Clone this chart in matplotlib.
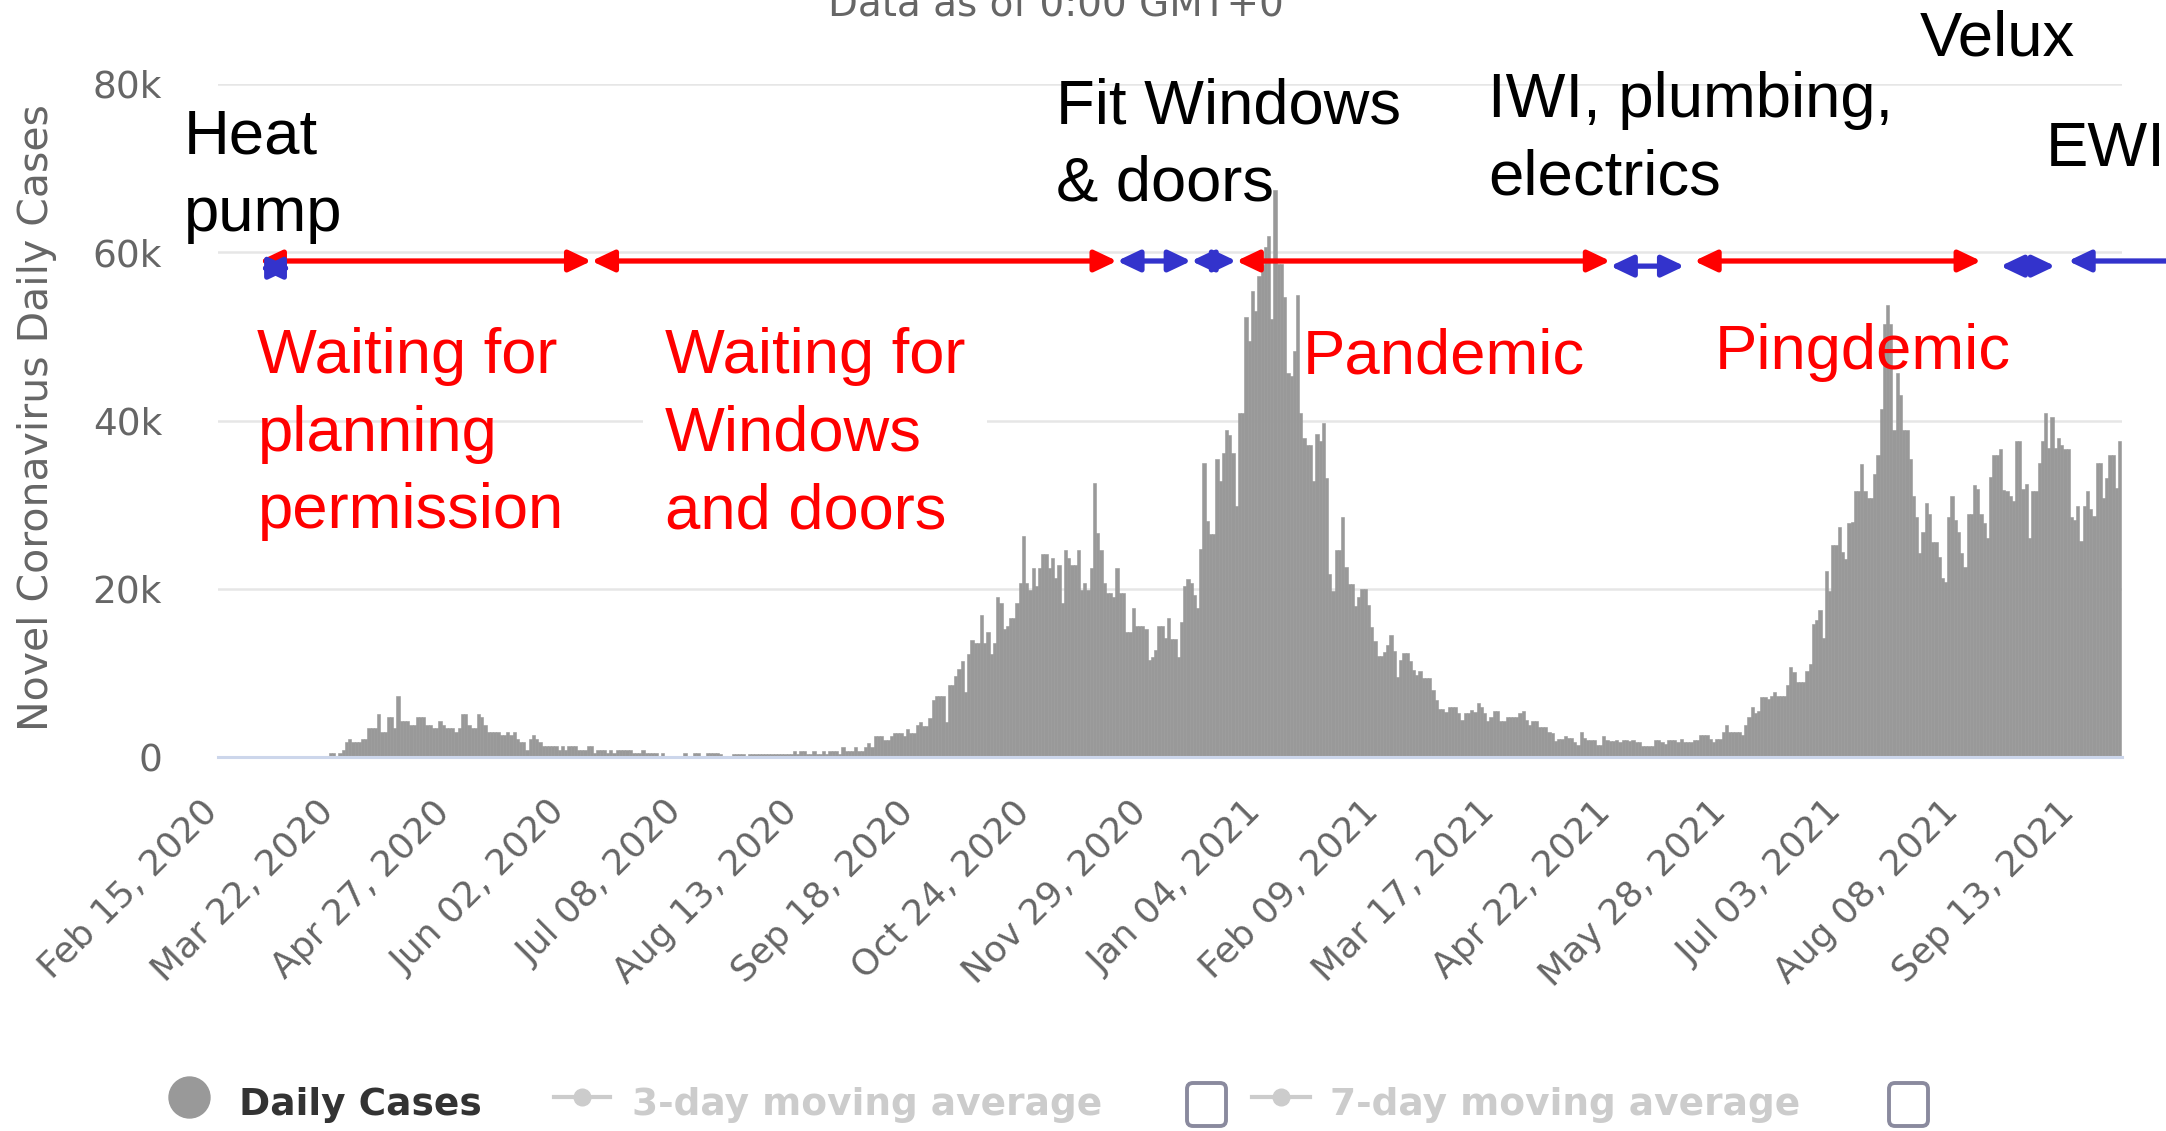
import numpy as np
import pandas as pd
import matplotlib
matplotlib.use("Agg")
import matplotlib.pyplot as plt
from matplotlib.lines import Line2D
from matplotlib.patches import FancyBboxPatch

start = pd.Timestamp("2020-02-15")

# UK daily cases, one bar per day from 15 Feb 2020
daily_cases = [
    0, 0, 0, 0, 0, 0, 0, 0, 0, 0,
    0, 0, 0, 0, 0, 0, 0, 0, 0, 0,
    0, 0, 0, 0, 0, 0, 0, 0, 0, 0,
    0, 0, 0, 0, 0, 470, 470, 100, 470, 830,
    1780, 2140, 1780, 1780, 1780, 2140, 2140, 3440, 3440, 3440,
    5100, 2970, 2970, 4750, 4750, 3440, 7250, 4280, 4280, 4280,
    3800, 3800, 4750, 4750, 4750, 3800, 3800, 3440, 3440, 4280,
    3800, 3440, 3440, 3440, 2970, 3440, 5100, 5100, 3800, 3440,
    3440, 5100, 4750, 3800, 2970, 2970, 2970, 2970, 2610, 2610,
    2970, 2610, 2970, 2140, 1780, 1780, 830, 2140, 2610, 2140,
    1780, 1300, 1300, 1300, 1300, 1300, 830, 1300, 830, 1300,
    1300, 1300, 830, 830, 830, 1300, 1300, 470, 830, 830,
    830, 470, 830, 470, 830, 830, 830, 830, 830, 470,
    470, 470, 830, 470, 470, 470, 470, 100, 470, 100,
    100, 100, 100, 100, 100, 470, 100, 100, 470, 470,
    100, 100, 470, 470, 470, 470, 400, 100, 100, 100,
    400, 400, 400, 400, 100, 400, 400, 400, 400, 400,
    400, 400, 400, 400, 400, 400, 400, 400, 400, 750,
    400, 750, 750, 400, 400, 750, 400, 400, 750, 400,
    750, 750, 750, 400, 1230, 750, 750, 750, 1230, 750,
    750, 1230, 1700, 1230, 2530, 2530, 2530, 2060, 2060, 2530,
    2890, 2890, 2890, 2530, 3360, 2890, 2890, 3840, 4190, 3720,
    3720, 4670, 6720, 7200, 7200, 7200, 4190, 8500, 8500, 9650,
    10520, 11470, 7670, 12300, 13960, 13570, 13570, 16930, 13600, 14800,
    12300, 13600, 19070, 18280, 15230, 15590, 16580, 16580, 18280, 20730,
    26310, 20730, 19900, 22510, 20380, 22510, 24170, 24170, 22510, 23700,
    21240, 22870, 18280, 24610, 23700, 22870, 22870, 24610, 19900, 20730,
    19900, 22510, 32600, 26660, 24610, 20730, 19540, 19540, 19070, 22510,
    19540, 19540, 14800, 14800, 17760, 15590, 15590, 15590, 15230, 11510,
    11830, 12700, 15590, 15590, 14120, 16580, 14040, 14040, 11830, 16100,
    20380, 21200, 20690, 19270, 17760, 24760, 34900, 28070, 26510, 26510,
    35380, 32830, 36180, 38820, 38300, 36180, 29810, 40940, 40940, 52360,
    49480, 55420, 52970, 57170, 58490, 60660, 61890, 52030, 67360, 58580,
    58580, 54670, 45660, 45240, 48210, 54950, 40900, 37970, 37120, 37120,
    32830, 38390, 37590, 39720, 33210, 21790, 19720, 24620, 24620, 28490,
    22640, 20520, 20520, 17920, 18960, 20000, 20000, 18020, 15420, 13770,
    12030, 12030, 12500, 13300, 14530, 12590, 9530, 11510, 12360, 12360,
    11420, 10380, 9720, 10240, 9430, 9430, 9430, 8020, 6790, 5660,
    5660, 5380, 5900, 5900, 5900, 5280, 4340, 5280, 5280, 5610,
    5380, 6370, 5990, 5280, 4250, 4810, 5520, 5520, 4250, 4250,
    4810, 4810, 4810, 4810, 5280, 5520, 4340, 3770, 4250, 4250,
    3540, 3540, 3540, 2920, 2830, 1890, 2120, 2120, 2550, 2260,
    2260, 1750, 1420, 2920, 2220, 2080, 2080, 1980, 1420, 1420,
    2550, 2080, 1890, 1890, 2080, 1750, 2080, 2080, 1890, 2080,
    1750, 1750, 1270, 1270, 1270, 1270, 2080, 2080, 1750, 1510,
    1980, 2080, 2080, 1750, 2120, 1750, 1750, 1750, 2080, 2080,
    2590, 2590, 2590, 2120, 1840, 2120, 2120, 2920, 3770, 2920,
    2920, 2920, 2920, 2590, 3770, 4720, 5900, 5280, 5520, 7170,
    7170, 6930, 7260, 7740, 7260, 7260, 7260, 8590, 10710, 10090,
    8960, 8960, 8960, 10240, 11080, 15800, 16230, 17450, 14100, 22120,
    19760, 25240, 25240, 27310, 24380, 23540, 27830, 27920, 31600, 31600,
    34860, 31600, 30750, 30750, 33680, 35850, 41370, 51510, 53680, 51510,
    38870, 45610, 43020, 38870, 38870, 35380, 31040, 28490, 24290, 26750,
    30190, 28870, 25570, 25570, 23770, 21320, 20850, 28490, 30990, 28160,
    26750, 24290, 22640, 28870, 28870, 32310, 31840, 28870, 27780, 26040,
    33260, 35940, 35940, 36600, 31700, 31600, 30990, 30380, 37550, 37550,
    31890, 32410, 26040, 31600, 31600, 34900, 37550, 40900, 36790, 40420,
    36790, 37920, 37120, 36650, 36650, 28580, 28160, 29810, 25660, 29810,
    31600, 29430, 28630, 34900, 34900, 30750, 33210, 35850, 35850, 31940,
    37550,
]

tick_dates = pd.date_range(start, periods=17, freq="36D")
tick_labels = [d.strftime("%b %d, %Y") for d in tick_dates]
y_ticks = [0, 20000, 40000, 60000, 80000]
y_tick_labels = ["0", "20k", "40k", "60k", "80k"]

# project phases: (from, to)
red_spans = [("2020-02-28", "2020-06-10"), ("2020-06-10", "2020-11-20"),
             ("2020-12-27", "2021-04-22"), ("2021-05-18", "2021-08-15")]
blue_spans = [("2020-02-28", "2020-03-09"), ("2020-11-20", "2020-12-13"),
              ("2020-12-13", "2020-12-27"), ("2021-04-22", "2021-05-15"),
              ("2021-08-21", "2021-09-07"), ("2021-09-11", "2021-10-20")]
blue_levels = [58100, 58960, 58960, 58350, 58350, 58960]
blue_styles = ["<|-|>"] * 5 + ["<|-"]

black_notes = ["Heat\npump", "Fit Windows\n& doors", "IWI, plumbing,\nelectrics", "Velux", "EWI"]
red_notes = ["Waiting for\nplanning\npermission", "Waiting for\nWindows\nand doors", "Pandemic", "Pingdemic"]


def day(s):
    return (pd.Timestamp(s) - start).days


W, H = 2166, 1131
fig = plt.figure(figsize=(W / 100, H / 100), dpi=100)
ax = fig.add_axes([217.5 / W, 1 - 757 / H, 1904.5 / W, 673 / H])

days = np.arange(len(daily_cases))
ax.bar(days, daily_cases, width=1.0, color="#999999", edgecolor="#999999", linewidth=0.4)

ax.set_xlim(0, 590.7)
ax.set_ylim(0, 80000)
for side in ["left", "right", "top"]:
    ax.spines[side].set_visible(False)
ax.spines["bottom"].set_color("#ccd6eb")
ax.spines["bottom"].set_linewidth(2.2)
ax.yaxis.grid(True, color="#e6e6e6", linewidth=1.8)
ax.set_axisbelow(True)

ax.set_yticks(y_ticks, y_tick_labels)
ax.set_xticks([day(d) + 2 for d in tick_dates], tick_labels, rotation=45, ha="right", va="top")
ax.tick_params(axis="y", length=0, pad=40, labelsize=27, labelcolor="#666666")
ax.tick_params(axis="x", length=0, pad=27, labelsize=26, labelcolor="#666666")
ax.set_ylabel("Novel Coronavirus Daily Cases", fontsize=29.5, color="#666666", va="center")
ax.yaxis.set_label_coords(-0.0948, 0.504)

# phase arrows
arrow_head = ",head_length=1.35,head_width=0.64"
for a, b in red_spans:
    ax.annotate("", xy=(day(b), 58960), xytext=(day(a), 58960), annotation_clip=False,
                arrowprops=dict(arrowstyle="<|-|>" + arrow_head, color="#ff0000", lw=3.8,
                                shrinkA=0, shrinkB=0, mutation_scale=10))
for (a, b), lev, st in zip(blue_spans, blue_levels, blue_styles):
    ax.annotate("", xy=(day(b), lev), xytext=(day(a), lev), annotation_clip=False,
                arrowprops=dict(arrowstyle=st + arrow_head, color="#3333cc", lw=3.8,
                                shrinkA=0, shrinkB=0, mutation_scale=10))

# notes: left edge in days, top in cases
note_font = dict(family="Liberation Sans", fontsize=45.6, linespacing=1.40, ha="left", va="top")
black_pos = [(-10.5, 77150), (260.0, 80770), (394.0, 81545), (528.0, 88900), (567.0, 75720)]
red_pos = [(12.4, 51055), (138.7, 51055), (336.6, 51114), (464.4, 51649)]
for txt, (x, y) in zip(black_notes, black_pos):
    ax.text(x, y, txt, color="black", **note_font)
for i, (txt, (x, y)) in enumerate(zip(red_notes, red_pos)):
    box = dict(facecolor="white", edgecolor="none", boxstyle="square,pad=0.35") if i == 1 else None
    ax.text(x, y, txt, color="#ff0000", bbox=box, **note_font)

fig.text(1056 / W, 1 - 15 / H, "Data as of 0:00 GMT+0", ha="center", va="baseline",
         fontsize=28, color="#666666")

# legend row
leg_y = 1 - 1097 / H
fig.add_artist(Line2D([189 / W], [leg_y], marker="o", ms=29.5, color="#999999", transform=fig.transFigure))
fig.text(239 / W, 1 - 1115 / H, "Daily Cases", fontsize=27, fontweight="bold", color="#333333", va="baseline")
for x0, x1, tx, label in [(554, 610, 632, "3-day moving average"), (1252, 1310, 1330, "7-day moving average")]:
    fig.add_artist(Line2D([x0 / W, x1 / W], [leg_y, leg_y], lw=3, color="#cccccc", transform=fig.transFigure))
    fig.add_artist(Line2D([(x0 + x1) / 2 / W], [leg_y], marker="o", ms=12, color="#cccccc", transform=fig.transFigure))
    fig.text(tx / W, 1 - 1115 / H, label, fontsize=27, fontweight="bold", color="#cccccc", va="baseline")
for bx in [1187, 1889]:
    fig.add_artist(FancyBboxPatch((bx / 100, (H - 1126) / 100), 0.39, 0.43,
                                  boxstyle="round,pad=0,rounding_size=0.06", transform=fig.dpi_scale_trans,
                                  fill=False, edgecolor="#8a8a9e", lw=2.8))

fig.savefig("out.png", dpi=100)
